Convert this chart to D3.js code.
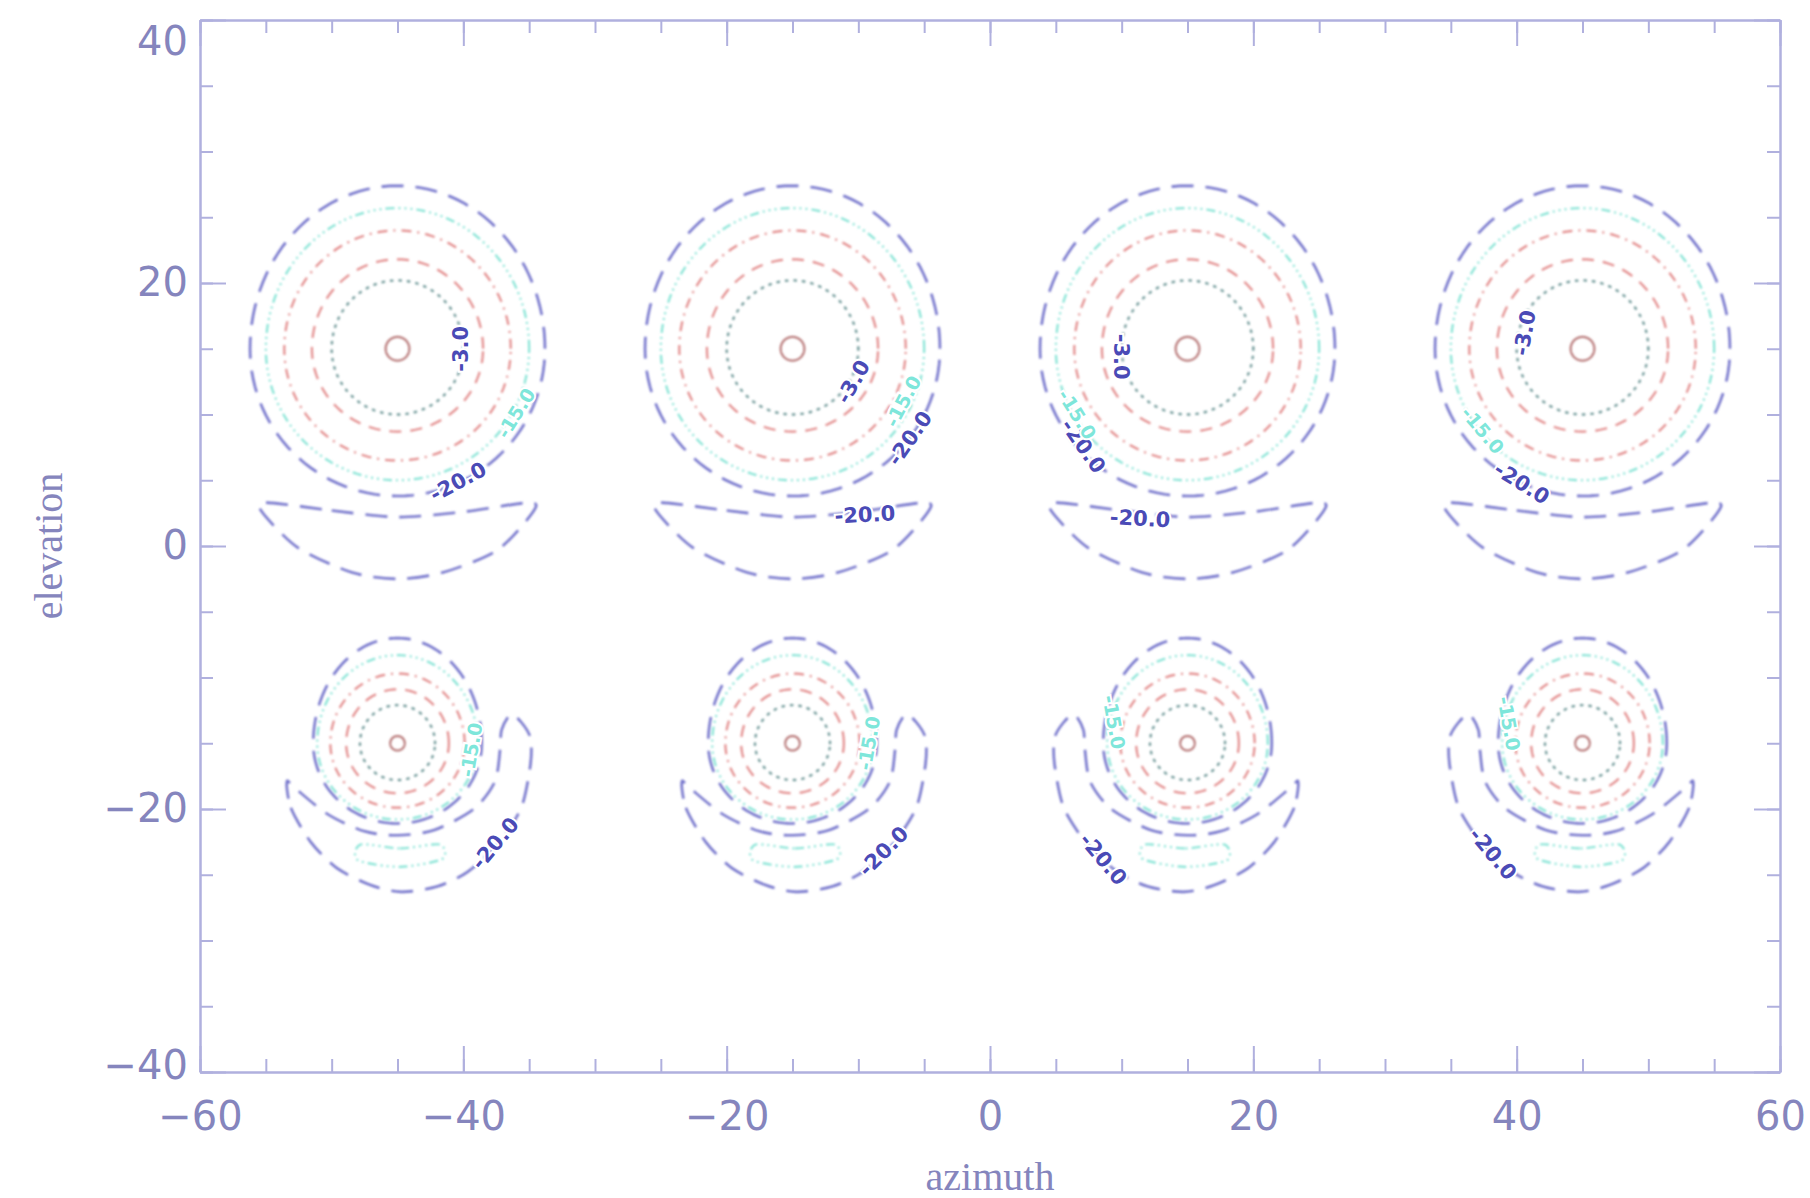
<!DOCTYPE html>
<html>
<head>
<meta charset="utf-8">
<script src="https://cdn.jsdelivr.net/npm/d3@7"></script>
<style>
  html, body { margin: 0; padding: 0; background: #ffffff; }
  svg { display: block; }
</style>
</head>
<body>
<svg id="chart" width="1810" height="1198"></svg>
<script>
// ---------------- data ----------------
const beamAzimuths = [-45, -15, 15, 45];
const beamElevations = [15, -15];
const levels = [-1, -3, -6, -10, -15, -20];
const xTickValues = [-60, -40, -20, 0, 20, 40, 60];
const yTickValues = [-40, -20, 0, 20, 40];
const xMinorTicks = d3.range(-60, 61, 5);
const yMinorTicks = d3.range(-40, 41, 5);

// main-lobe contour sizes, degrees: [half width, extent above centre, extent below centre]
const upperRowLobe = [
  [0.9, 0.9, 0.9],
  [5.0, 5.2, 5.0],
  [6.5, 6.8, 6.3],
  [8.6, 9.0, 8.5],
  [10.0, 10.7, 10.0],
  [11.2, 12.4, 11.2]
];
const lowerRowLobe = [
  [0.55, 0.55, 0.55],
  [2.85, 2.9, 2.8],
  [3.9, 4.1, 3.8],
  [5.1, 5.3, 4.9],
  [6.1, 6.7, 5.8],
  [6.4, 8.0, 6.1]
];

// -20 dB side lobe below the upper-row beams (offsets from beam centre, degrees)
const upperSideLobe20 = [
  [-10, -11.7], [-5, -12.3], [0, -12.8], [5, -12.4], [10, -11.7],
  [10.3, -12.4], [7.6, -15.3], [3.5, -17.0], [0, -17.5], [-3.5, -17.0], [-7.6, -15.1], [-10.3, -12.4]
];
// -20 dB crescent side lobe of the lower-row beams (az < 0 orientation; mirrored for az > 0)
const lowerSideLobe20 = [
  [-8.4, -2.9], [-8.1, -4.9], [-6.6, -7.5], [-4.6, -9.5], [-2.0, -10.8], [0.3, -11.3],
  [3.0, -10.9], [5.3, -9.8], [7.6, -7.7], [9.4, -4.9], [10.1, -1.6], [10.1, 0.4], [9.4, 1.6], [8.6, 2.2],
  [7.9, 1.0], [7.8, -0.4], [7.4, -2.9], [5.8, -5.0], [2.8, -6.6], [0, -7.0], [-2.5, -6.7], [-5.3, -5.4], [-7.8, -3.4]
];
// -15 dB side lobe of the lower-row beams
const lowerSideLobe15 = [
  [-2.8, -7.7], [0.2, -8.0], [3.2, -7.7], [3.4, -8.8], [0.2, -9.4], [-3.0, -8.9]
];

// contour labels: beam row, beam column, offset from centre (deg), text, rotation
const contourLabels = [
  {row: 0, col: 0, dAz: 4.8, dEl: 0.0, text: "-3.0", rot: -90, lvl: -3},
  {row: 0, col: 0, dAz: 4.6, dEl: -10.1, text: "-20.0", rot: -28, lvl: -20},
  {row: 0, col: 0, dAz: 9.0, dEl: -4.9, text: "-15.0", rot: -58, lvl: -15},
  {row: 0, col: 1, dAz: 4.6, dEl: -2.5, text: "-3.0", rot: -60, lvl: -3},
  {row: 0, col: 1, dAz: 8.9, dEl: -6.8, text: "-20.0", rot: -55, lvl: -20},
  {row: 0, col: 1, dAz: 8.4, dEl: -4.0, text: "-15.0", rot: -62, lvl: -15},
  {row: 0, col: 1, dAz: 5.5, dEl: -12.6, text: "-20.0", rot: -3, lvl: -20},
  {row: 0, col: 2, dAz: -5.0, dEl: -0.6, text: "-3.0", rot: 90, lvl: -3},
  {row: 0, col: 2, dAz: -7.9, dEl: -7.4, text: "-20.0", rot: 55, lvl: -20},
  {row: 0, col: 2, dAz: -8.4, dEl: -5.0, text: "-15.0", rot: 58, lvl: -15},
  {row: 0, col: 2, dAz: -3.6, dEl: -12.9, text: "-20.0", rot: 3, lvl: -20},
  {row: 0, col: 3, dAz: -4.4, dEl: 1.2, text: "-3.0", rot: -80, lvl: -3},
  {row: 0, col: 3, dAz: -4.6, dEl: -10.2, text: "-20.0", rot: 32, lvl: -20},
  {row: 0, col: 3, dAz: -7.6, dEl: -6.2, text: "-15.0", rot: 50, lvl: -15},
  {row: 1, col: 0, dAz: 7.4, dEl: -7.6, text: "-20.0", rot: -50, lvl: -20},
  {row: 1, col: 0, dAz: 5.6, dEl: -0.5, text: "-15.0", rot: -80, lvl: -15},
  {row: 1, col: 1, dAz: 6.9, dEl: -8.2, text: "-20.0", rot: -45, lvl: -20},
  {row: 1, col: 1, dAz: 5.8, dEl: 0.0, text: "-15.0", rot: -80, lvl: -15},
  {row: 1, col: 2, dAz: -6.4, dEl: -8.8, text: "-20.0", rot: 50, lvl: -20},
  {row: 1, col: 2, dAz: -5.6, dEl: 1.6, text: "-15.0", rot: 80, lvl: -15},
  {row: 1, col: 3, dAz: -6.8, dEl: -8.4, text: "-20.0", rot: 50, lvl: -20},
  {row: 1, col: 3, dAz: -5.6, dEl: 1.5, text: "-15.0", rot: 80, lvl: -15}
];

// ---------------- styles ----------------
const levelStyle = {
  "-1":  {color: "#b97a7a", dash: null, width: 2.2},
  "-3":  {color: "#6f9898", dash: "1.5,7", width: 2.4},
  "-6":  {color: "#e38c8c", dash: "12,9", width: 2.2},
  "-10": {color: "#e38c8c", dash: "10,6,2,6", width: 2.2},
  "-15": {color: "#86e4d6", dash: "9,4,2,4,2,4,2,4", width: 2.2},
  "-20": {color: "#7676cc", dash: "22,12", width: 2.6}
};
const axisColor = "#b0b0de";
const tickTextColor = "#8585bd";

// ---------------- layout ----------------
const svg = d3.select("#chart");
const x = d3.scaleLinear().domain([-60, 60]).range([200, 1780]);
const y = d3.scaleLinear().domain([-40, 40]).range([1072, 20]);

const defs = svg.append("defs");
defs.append("filter").attr("id", "soft")
  .append("feGaussianBlur").attr("stdDeviation", 0.8);

// ---------------- contours ----------------
const contourG = svg.append("g").attr("filter", "url(#soft)");

function eggPoints(az, el, r) {
  return d3.range(0, 361, 3).map(deg => {
    const t = deg * Math.PI / 180;
    const s = Math.sin(t);
    return [az + r[0] * Math.cos(t), el + (s >= 0 ? r[1] : r[2]) * s];
  });
}
const line = d3.line().x(d => x(d[0])).y(d => y(d[1]));
const closedSmooth = d3.line().x(d => x(d[0])).y(d => y(d[1])).curve(d3.curveCardinalClosed.tension(0.2));

function styled(sel, lvl) {
  const st = levelStyle[String(lvl)];
  sel.attr("fill", "none").attr("stroke", st.color).attr("stroke-width", st.width)
     .attr("stroke-linecap", lvl === -3 ? "round" : "butt");
  if (st.dash) sel.attr("stroke-dasharray", st.dash);
  return sel;
}

beamElevations.forEach((el, row) => {
  const lobe = row === 0 ? upperRowLobe : lowerRowLobe;
  beamAzimuths.forEach((az, col) => {
    const mirror = az > 0 ? -1 : 1;
    levels.forEach((lvl, i) => {
      styled(contourG.append("path").attr("d", line(eggPoints(az, el, lobe[i]))), lvl);
    });
    if (row === 0) {
      const pts = upperSideLobe20.map(p => [az + p[0], el + p[1]]);
      styled(contourG.append("path").attr("d", closedSmooth(pts)), -20);
    } else {
      const pts20 = lowerSideLobe20.map(p => [az + mirror * p[0], el + p[1]]);
      styled(contourG.append("path").attr("d", closedSmooth(pts20)), -20);
      const pts15 = lowerSideLobe15.map(p => [az + mirror * p[0], el + p[1]]);
      styled(contourG.append("path").attr("d", closedSmooth(pts15)), -15);
    }
  });
});

// contour labels
const labelG = svg.append("g");
contourLabels.forEach(l => {
  const az = beamAzimuths[l.col] + l.dAz;
  const el = beamElevations[l.row] + l.dEl;
  const isCyan = l.lvl === -15;
  labelG.append("text")
    .attr("transform", `translate(${x(az)},${y(el)}) rotate(${l.rot})`)
    .attr("text-anchor", "middle")
    .attr("dy", "0.35em")
    .attr("font-family", "DejaVu Sans, sans-serif")
    .attr("font-weight", "bold")
    .attr("font-size", isCyan ? 19 : 21)
    .attr("fill", isCyan ? "#7ee6da" : "#4a4ab6")
    .attr("stroke", "#ffffff")
    .attr("stroke-width", 4)
    .attr("paint-order", "stroke")
    .text(l.text);
});

// ---------------- axes ----------------
function styleAxis(g) {
  g.selectAll("path, line").attr("stroke", axisColor).attr("stroke-width", 2);
  g.selectAll("text").attr("fill", tickTextColor)
    .attr("font-family", "DejaVu Sans, sans-serif").attr("font-size", 40);
}

// bottom
svg.append("g").attr("transform", `translate(0,${y(-40)})`)
  .call(d3.axisBottom(x).tickValues(xMinorTicks).tickSizeInner(-13).tickSizeOuter(0).tickFormat(""))
  .call(styleAxis);
svg.append("g").attr("transform", `translate(0,${y(-40)})`)
  .call(d3.axisBottom(x).tickValues(xTickValues).tickSizeInner(-26).tickSizeOuter(0).tickPadding(30).tickFormat(d3.format("d")))
  .call(styleAxis);
// top
svg.append("g").attr("transform", `translate(0,${y(40)})`)
  .call(d3.axisTop(x).tickValues(xMinorTicks).tickSizeInner(-13).tickSizeOuter(0).tickFormat(""))
  .call(styleAxis);
svg.append("g").attr("transform", `translate(0,${y(40)})`)
  .call(d3.axisTop(x).tickValues(xTickValues).tickSizeInner(-26).tickSizeOuter(0).tickFormat(""))
  .call(styleAxis);
// left
svg.append("g").attr("transform", `translate(${x(-60)},0)`)
  .call(d3.axisLeft(y).tickValues(yMinorTicks).tickSizeInner(-13).tickSizeOuter(0).tickFormat(""))
  .call(styleAxis);
const yAxisG = svg.append("g").attr("transform", `translate(${x(-60)},0)`)
  .call(d3.axisLeft(y).tickValues(yTickValues).tickSizeInner(-26).tickSizeOuter(0).tickPadding(12).tickFormat(d3.format("d")))
  .call(styleAxis);
// keep the end labels inside the picture, as in the reference
yAxisG.selectAll(".tick text").attr("dy", d => d === 40 ? "0.85em" : (d === -40 ? "0.15em" : "0.32em"));
// right
svg.append("g").attr("transform", `translate(${x(60)},0)`)
  .call(d3.axisRight(y).tickValues(yMinorTicks).tickSizeInner(-13).tickSizeOuter(0).tickFormat(""))
  .call(styleAxis);
svg.append("g").attr("transform", `translate(${x(60)},0)`)
  .call(d3.axisRight(y).tickValues(yTickValues).tickSizeInner(-26).tickSizeOuter(0).tickFormat(""))
  .call(styleAxis);

// axis titles
svg.append("text")
  .attr("x", x(0)).attr("y", 1190)
  .attr("text-anchor", "middle")
  .attr("font-family", "Liberation Serif, DejaVu Serif, serif")
  .attr("font-size", 40)
  .attr("fill", tickTextColor)
  .text("azimuth");
svg.append("text")
  .attr("transform", `translate(62,${y(0)}) rotate(-90)`)
  .attr("text-anchor", "middle")
  .attr("font-family", "Liberation Serif, DejaVu Serif, serif")
  .attr("font-size", 40)
  .attr("fill", tickTextColor)
  .text("elevation");
</script>
</body>
</html>
